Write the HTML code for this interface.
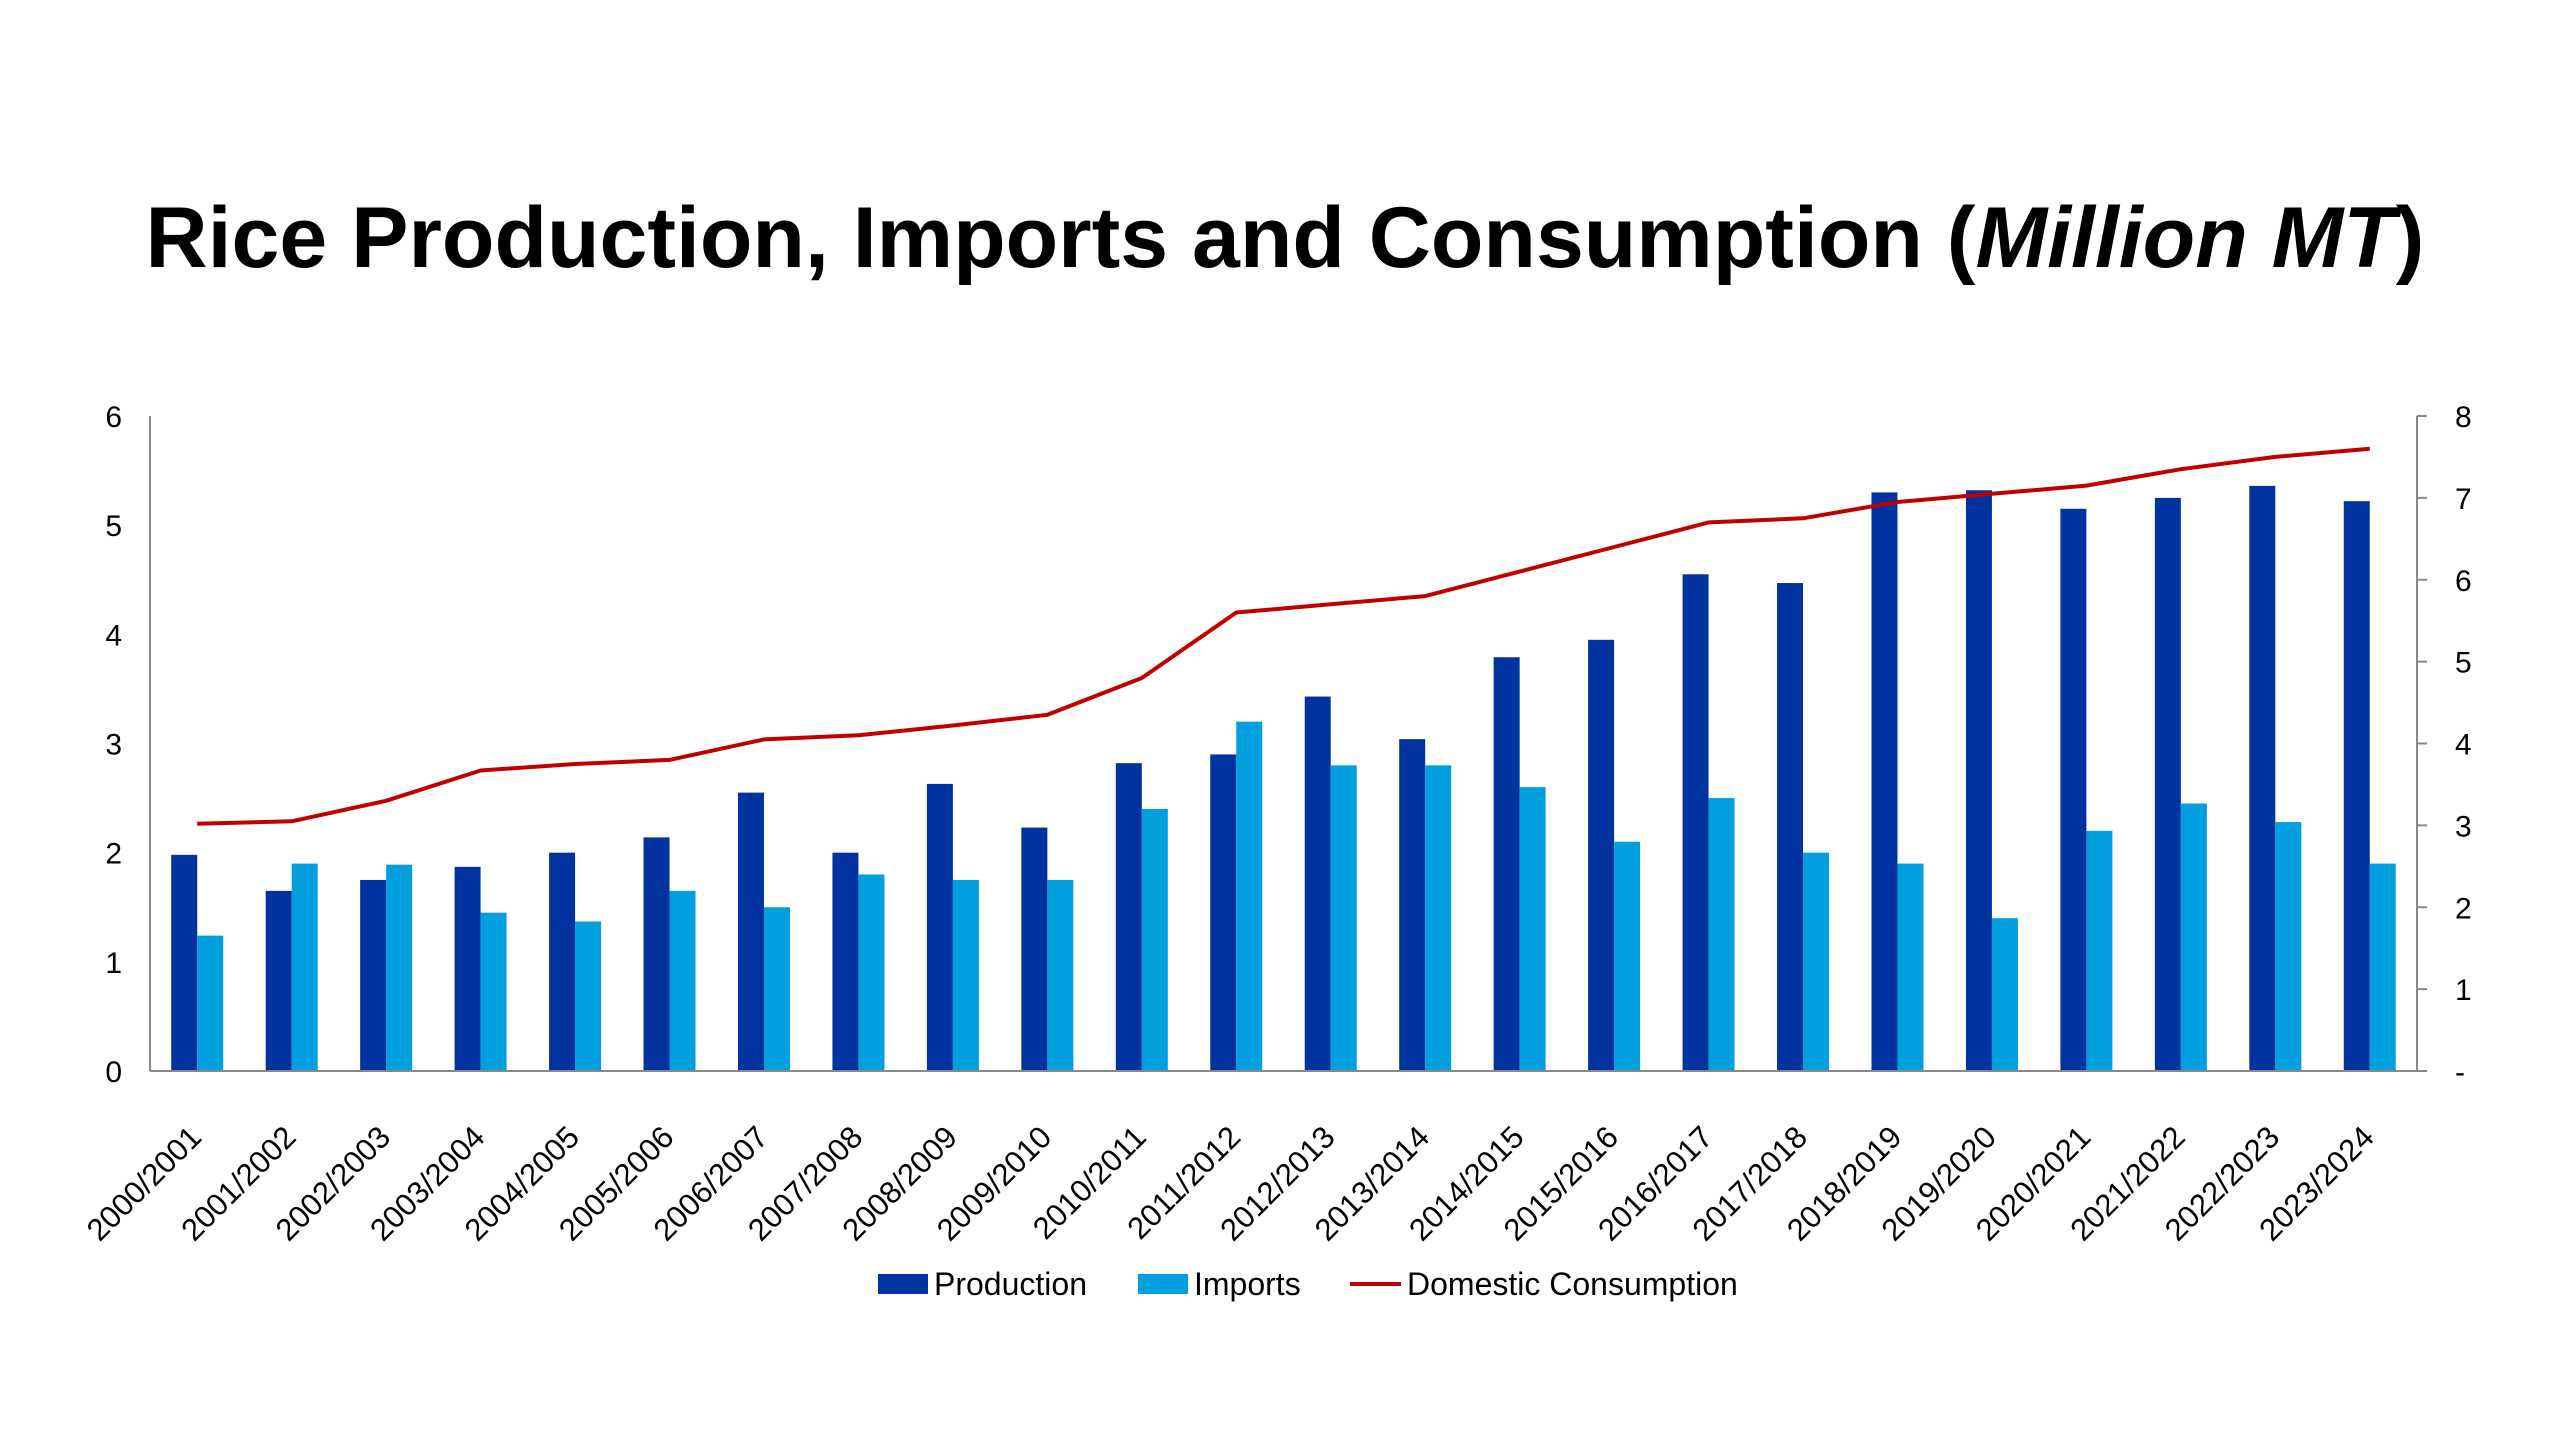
<!DOCTYPE html>
<html><head><meta charset="utf-8">
<style>
html,body{margin:0;padding:0;background:#fff;}
svg{display:block;font-family:"Liberation Sans",Arial,sans-serif;}
</style></head>
<body>
<svg id="chart" width="2560" height="1440" viewBox="0 0 2560 1440" xmlns="http://www.w3.org/2000/svg">
<text x="1285" y="267" text-anchor="middle" font-size="86" font-weight="bold" fill="#000">Rice Production, Imports and Consumption (<tspan font-style="italic">Million MT</tspan>)</text>
<g id="plot"></g>
<g>
<rect x="878" y="1274" width="50" height="20" fill="#0033A0"/>
<text x="934" y="1295" font-size="32">Production</text>
<rect x="1138" y="1274" width="50" height="20" fill="#00A0E0"/>
<text x="1194" y="1295" font-size="32">Imports</text>
<line x1="1350" y1="1284" x2="1401" y2="1284" stroke="#C00000" stroke-width="4"/>
<text x="1407" y="1295" font-size="32">Domestic Consumption</text>
</g>
</svg>
<script>
const categories=["2000/2001","2001/2002","2002/2003","2003/2004","2004/2005","2005/2006","2006/2007","2007/2008","2008/2009","2009/2010","2010/2011","2011/2012","2012/2013","2013/2014","2014/2015","2015/2016","2016/2017","2017/2018","2018/2019","2019/2020","2020/2021","2021/2022","2022/2023","2023/2024"];
const production=[1.98,1.65,1.75,1.87,2.0,2.14,2.55,2.0,2.63,2.23,2.82,2.9,3.43,3.04,3.79,3.95,4.55,4.47,5.3,5.32,5.15,5.25,5.36,5.22];
const imports=[1.24,1.9,1.89,1.45,1.37,1.65,1.5,1.8,1.75,1.75,2.4,3.2,2.8,2.8,2.6,2.1,2.5,2.0,1.9,1.4,2.2,2.45,2.28,1.9];
const consumption=[3.02,3.05,3.3,3.67,3.75,3.8,4.05,4.1,4.22,4.35,4.8,5.6,5.7,5.8,6.1,6.4,6.7,6.75,6.95,7.05,7.15,7.35,7.5,7.6];
const leftTicks=["0","1","2","3","4","5","6"];
const rightTicks=["-","1","2","3","4","5","6","7","8"];

const NS="http://www.w3.org/2000/svg";
const X0=150,X1=2417,Y0=1071,YT=416;
const band=(X1-X0)/categories.length;
const yL=v=>Y0-(v/6)*(Y0-YT);
const yR=v=>Y0-(v/8)*(Y0-YT);
const cx=i=>X0+band*(i+0.5);
const g=document.getElementById('plot');
function mk(tag,attrs){const e=document.createElementNS(NS,tag);for(const k in attrs)e.setAttribute(k,attrs[k]);g.appendChild(e);return e;}
const bw=26;
production.forEach((v,i)=>{
 const r=mk('rect',{x:cx(i)-bw,y:yL(v),width:bw,height:Y0-yL(v),fill:'#0033A0'});
 
 
});
imports.forEach((v,i)=>{
 const r=mk('rect',{x:cx(i),y:yL(v),width:bw,height:Y0-yL(v),fill:'#00A0E0'});
 
 
});
const pts=consumption.map((v,i)=>cx(i).toFixed(1)+','+yR(v).toFixed(1)).join(' ');
const pl=mk('polyline',{points:pts,fill:'none',stroke:'#C00000','stroke-width':4,'stroke-linejoin':'round'});


const la=mk('line',{x1:X0,y1:YT,x2:X0,y2:Y0,stroke:'#888','stroke-width':2});


const ra=mk('line',{x1:X1,y1:YT,x2:X1,y2:Y0,stroke:'#888','stroke-width':2});


const xa=mk('line',{x1:X0,y1:Y0,x2:X1+10,y2:Y0,stroke:'#888','stroke-width':2});


leftTicks.forEach((t,i)=>{
 const e=mk('text',{x:122,y:yL(i)+11,'text-anchor':'end','font-size':30,fill:'#000'});
 e.textContent=t;
 
 
});
rightTicks.forEach((t,i)=>{
 const tk=mk('line',{x1:X1,y1:yR(i),x2:X1+10,y2:yR(i),stroke:'#888','stroke-width':2});
 
 
 const e=mk('text',{x:2455,y:yR(i)+11,'font-size':30,fill:'#000'});
 e.textContent=t;
 
 
});
categories.forEach((c,i)=>{
 const ax=cx(i)+6,ay=1139;
 const e=mk('text',{x:ax,y:ay,'text-anchor':'end','font-size':31,fill:'#000',transform:`rotate(-45 ${ax} ${ay})`});
 e.textContent=c;
 
 
});
</script>
</body></html>
